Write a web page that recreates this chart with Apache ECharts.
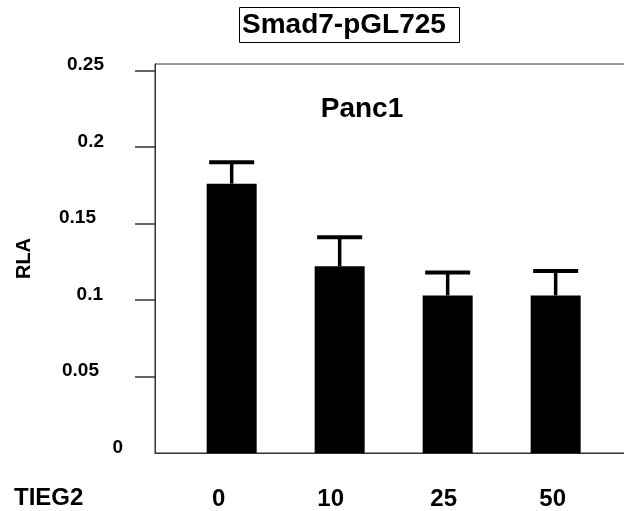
<!DOCTYPE html>
<html>
<head>
<meta charset="utf-8">
<script src="https://cdn.jsdelivr.net/npm/echarts@6/dist/echarts.min.js"></script>
<style>
  html, body { margin: 0; padding: 0; background: #fff; }
  #chart { width: 624px; height: 511px; }
</style>
</head>
<body>
<div id="chart"></div>
<script>
// TIEG2 doses and RLA values
var doses = ["0", "10", "25", "50"];
var doseIndex = [0, 1, 2, 3];
var rlaMean = [0.176, 0.122, 0.103, 0.103];
var rlaErr = [0.014, 0.019, 0.015, 0.016];
var yTicks = [0, 0.05, 0.1, 0.15, 0.2, 0.25];

var FONT = "'Liberation Sans', Arial, sans-serif";

// small per-label nudges so the labels sit where the original put them
var xShift = [13, 9, 4, 3];
var yPadRight = [0, 24, 20, 27, 19, 19];

var barData = doseIndex.map(function (x, i) { return [x, rlaMean[i]]; });
var errData = doseIndex.map(function (x, i) { return [x, rlaMean[i], rlaMean[i] + rlaErr[i]]; });

var xRich = {};
xShift.forEach(function (d, i) {
  xRich["s" + i] = { fontSize: 24, fontWeight: "bold", fontFamily: FONT, color: "#000", padding: [0, 2 * d, 0, 0] };
});
var yRich = {};
yPadRight.forEach(function (d, i) {
  yRich["t" + i] = { fontSize: 19, fontWeight: "bold", fontFamily: FONT, color: "#000", padding: [0, d, 11, 0] };
});

var chart = echarts.init(document.getElementById("chart"));
var option = {
  animation: false,
  title: [
    {
      text: "Smad7-pGL725",
      left: 239,
      top: 7,
      padding: [4, 14, 4, 3],
      borderColor: "#000",
      borderWidth: 1,
      textStyle: { fontSize: 28, fontWeight: "bold", fontFamily: FONT, color: "#000" }
    },
    {
      text: "Panc1",
      left: 362,
      top: 95,
      padding: 0,
      textAlign: "center",
      textStyle: { fontSize: 28, fontWeight: "bold", fontFamily: FONT, color: "#000" }
    }
  ],
  graphic: [
    {
      type: "text",
      left: 14,
      top: 486,
      style: { text: "TIEG2", fontSize: 24, fontWeight: "bold", fontFamily: FONT, fill: "#000" }
    }
  ],
  grid: {
    left: 155,
    right: -20,
    top: 64,
    bottom: 58,
    show: true,
    borderColor: "#333",
    borderWidth: 1,
    outerBoundsMode: "none"
  },
  xAxis: {
    type: "value",
    min: -0.71,
    max: 3.818,
    axisLine: { onZero: false, lineStyle: { color: "#333", width: 1 } },
    axisTick: { show: false },
    splitLine: { show: false },
    axisLabel: {
      customValues: doseIndex,
      margin: 34,
      formatter: function (v) {
        var i = doseIndex.indexOf(v);
        return "{s" + i + "|" + doses[i] + "}";
      },
      rich: xRich
    }
  },
  yAxis: {
    type: "value",
    min: 0,
    max: 0.2542,
    name: "RLA",
    nameLocation: "middle",
    nameRotate: 90,
    nameGap: 121,
    nameTextStyle: { fontSize: 20, fontWeight: "bold", fontFamily: FONT, color: "#000" },
    axisLine: { show: true, onZero: false, lineStyle: { color: "#333", width: 1 } },
    axisTick: {
      show: true,
      inside: false,
      length: 20,
      customValues: yTicks.slice(1),
      lineStyle: { color: "#333", width: 1.5 }
    },
    splitLine: { show: false },
    axisLabel: {
      customValues: yTicks,
      margin: 32,
      formatter: function (v) {
        var i = yTicks.indexOf(v);
        return "{t" + i + "|" + v + "}";
      },
      rich: yRich
    }
  },
  series: [
    {
      type: "bar",
      data: barData,
      barWidth: 50,
      itemStyle: { color: "#000" }
    },
    {
      type: "custom",
      data: errData,
      encode: { x: 0, y: [1, 2] },
      z: 3,
      renderItem: function (params, api) {
        var top = api.coord([api.value(0), api.value(2)]);
        var base = api.coord([api.value(0), api.value(1)]);
        var half = 22.5;
        return {
          type: "group",
          children: [
            {
              type: "line",
              shape: { x1: top[0], y1: base[1], x2: top[0], y2: top[1] },
              style: { stroke: "#000", lineWidth: 3.5 }
            },
            {
              type: "line",
              shape: { x1: top[0] - half, y1: top[1], x2: top[0] + half, y2: top[1] },
              style: { stroke: "#000", lineWidth: 4 }
            }
          ]
        };
      }
    }
  ]
};
chart.setOption(option);
</script>
</body>
</html>
